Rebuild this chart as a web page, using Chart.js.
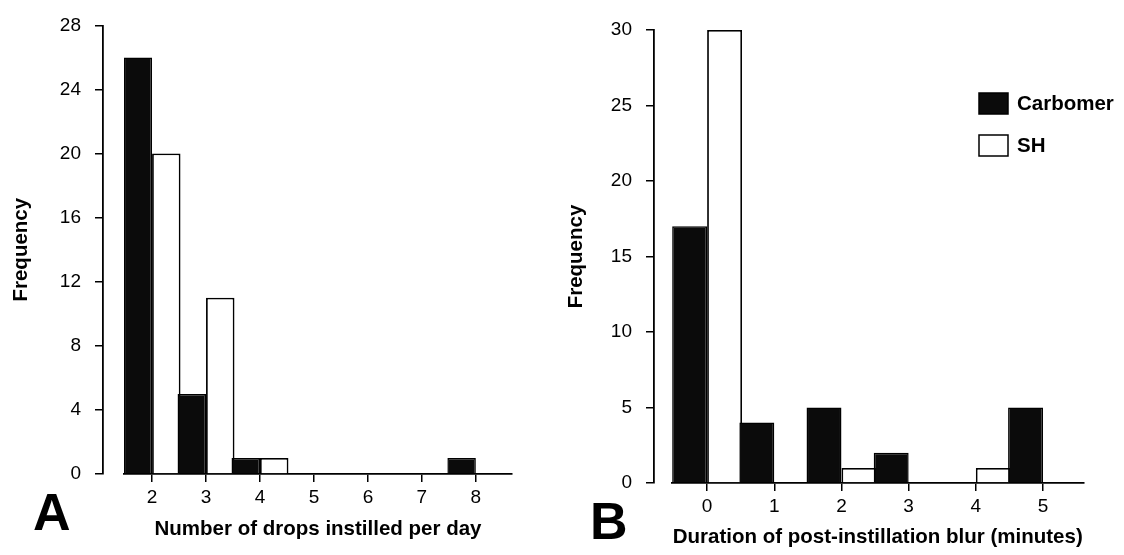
<!DOCTYPE html>
<html>
<head>
<meta charset="utf-8">
<script src="https://cdn.jsdelivr.net/npm/chart.js@4.4.1/dist/chart.umd.min.js"></script>
<style>
html,body{margin:0;padding:0;background:#fff;}
#wrap{position:relative;width:1124px;height:555px;overflow:hidden;background:#fff;}
.pane{position:absolute;top:0;height:555px;}
#pa{left:0;width:560px;}
#pb{left:560px;width:564px;}
.tag{position:absolute;font-family:"Liberation Sans",Arial,sans-serif;font-weight:bold;font-size:52px;line-height:1;color:#000;}
#ta{left:33px;top:486px;}
#tb{left:590px;top:495px;}
</style>
</head>
<body>
<div id="wrap">
  <div class="pane" id="pa"><canvas id="ca" width="560" height="555"></canvas></div>
  <div class="pane" id="pb"><canvas id="cb" width="564" height="555"></canvas></div>
  <div class="tag" id="ta">A</div>
  <div class="tag" id="tb">B</div>
</div>
<script>
// ---- data ----
const seriesNames = ['Carbomer', 'SH'];

const dropCategories = [2, 3, 4, 5, 6, 7, 8];
const dropCarbomer   = [26, 5, 1, 0, 0, 0, 1];
const dropSH         = [20, 11, 1, 0, 0, 0, 0];
const dropYTicks     = [0, 4, 8, 12, 16, 20, 24, 28];
const dropXTitle     = 'Number of drops instilled per day';

const blurCategories = [0, 1, 2, 3, 4, 5];
const blurCarbomer   = [17, 4, 5, 2, 0, 5];
const blurSH         = [30, 0, 1, 0, 1, 0];
const blurYTicks     = [0, 5, 10, 15, 20, 25, 30];
const blurXTitle     = 'Duration of post-instillation blur (minutes)';

const yTitle = 'Frequency';

// ---- styling ----
const FAMILY = '"Liberation Sans", Arial, Helvetica, sans-serif';
const INK = '#000';
const DARK = '#0b0b0b';

const boxLegend = {
  id: 'boxLegend',
  afterDraw(chart, args, o) {
    if (!o || !o.display) return;
    const ctx = chart.ctx;
    ctx.save();
    chart.data.datasets.forEach((ds, i) => {
      const y = o.top + i * o.rowGap;
      ctx.fillStyle = ds.backgroundColor;
      ctx.fillRect(o.left, y, o.boxW, o.boxH);
      ctx.strokeStyle = ds.borderColor;
      ctx.lineWidth = 1.5;
      ctx.strokeRect(o.left, y, o.boxW, o.boxH);
      ctx.fillStyle = INK;
      ctx.font = 'bold 20.5px ' + FAMILY;
      ctx.textBaseline = 'middle';
      ctx.textAlign = 'left';
      ctx.fillText(ds.label, o.left + o.boxW + o.gap, y + o.boxH / 2 + 1);
    });
    ctx.restore();
  }
};

function makeChart(canvasId, p) {
  const toPts = (vals) => p.cats.map((c, i) => ({ x: c, y: vals[i] }));
  return new Chart(document.getElementById(canvasId), {
    type: 'bar',
    data: {
      datasets: [
        { label: seriesNames[0], data: toPts(p.carb), backgroundColor: DARK, borderColor: INK,
          borderWidth: 1.5, categoryPercentage: p.cp, barPercentage: 1 },
        { label: seriesNames[1], data: toPts(p.sh), backgroundColor: '#ffffff', borderColor: INK,
          borderWidth: 1.8, categoryPercentage: p.cp, barPercentage: 1 }
      ]
    },
    plugins: [boxLegend],
    options: {
      responsive: false,
      animation: false,
      devicePixelRatio: 1,
      layout: { padding: { left: 0, top: p.top, right: p.padRight, bottom: 0 } },
      plugins: {
        legend: { display: false },
        tooltip: { enabled: false },
        boxLegend: p.legend || { display: false }
      },
      scales: {
        x: {
          type: 'linear', position: 'bottom', min: p.xMin, max: p.xMax, offset: false,
          afterBuildTicks: (s) => { s.ticks = p.cats.map(v => ({ value: v })); },
          afterFit: (s) => { s.height = p.xH; },
          grid: { offset: false, drawOnChartArea: false, drawTicks: true, tickLength: 8, color: INK, lineWidth: 1.5 },
          border: { display: true, color: INK, width: 1.8 },
          ticks: { color: INK, font: { family: FAMILY, size: 19 }, padding: 4, maxRotation: 0, autoSkip: false },
          title: { display: true, text: p.xTitle, color: INK,
                   font: { family: FAMILY, size: 20.5, weight: 'bold' }, padding: { top: 0, bottom: p.xTitlePad } }
        },
        y: {
          type: 'linear', position: 'left', weight: 5, min: 0, max: p.yMax,
          afterBuildTicks: (s) => { s.ticks = p.yTicks.map(v => ({ value: v })); },
          afterFit: (s) => { s.width = p.yW; },
          grid: { drawOnChartArea: false, drawTicks: true, tickLength: 8, color: INK, lineWidth: 1.5 },
          border: { display: true, color: INK, width: 1.8 },
          ticks: { color: INK, font: { family: FAMILY, size: 19 }, padding: 14 },
          title: { display: true, text: yTitle, color: INK,
                   font: { family: FAMILY, size: 20.5, weight: 'bold' }, padding: { top: p.yTitlePad, bottom: 0 } }
        },
        ygap: {
          type: 'linear', position: 'left', weight: 0, display: true,
          afterFit: (s) => { s.width = p.gapW; },
          grid: { display: false }, border: { display: false }, ticks: { display: false }
        }
      }
    }
  });
}

makeChart('ca', {
  cats: dropCategories, carb: dropCarbomer, sh: dropSH, yTicks: dropYTicks, yMax: 28,
  xTitle: dropXTitle, xMin: 1.48, xMax: 8.67, cp: 1.055,
  top: 20, padRight: 48, xH: 81, xTitlePad: 13.5, yW: 103, gapW: 21, yTitlePad: 9
});

makeChart('cb', {
  cats: blurCategories, carb: blurCarbomer, sh: blurSH, yTicks: blurYTicks, yMax: 30,
  xTitle: blurXTitle, xMin: -0.53, xMax: 5.61, cp: 1.04,
  top: 30, padRight: 40, xH: 72, xTitlePad: 5.7, yW: 94, gapW: 17.5, yTitlePad: 3.7,
  legend: { display: true, left: 419, top: 93, boxW: 29, boxH: 21, rowGap: 42, gap: 9 }
});
</script>
</body>
</html>
